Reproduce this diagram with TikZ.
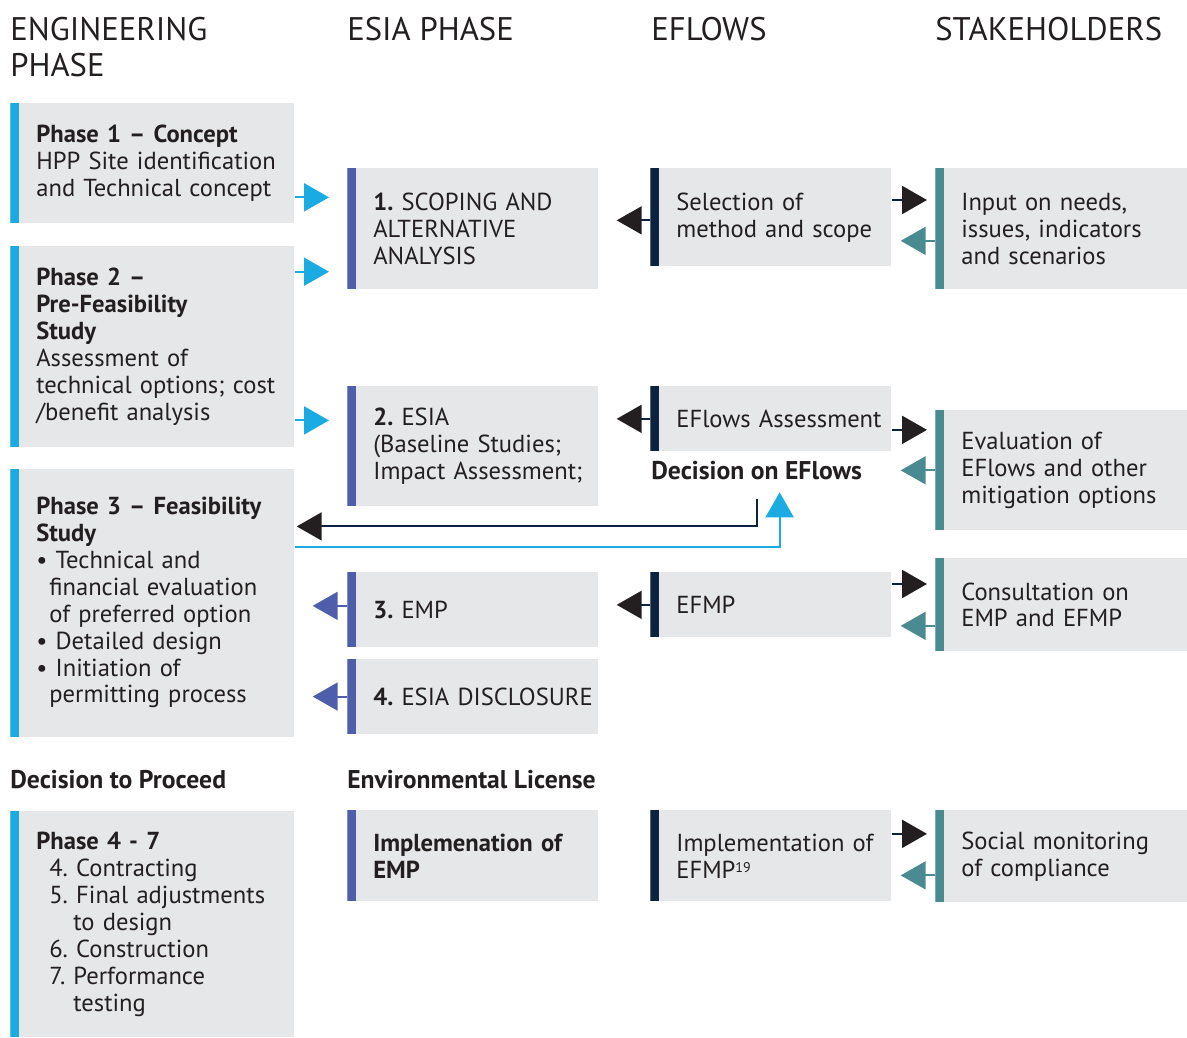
\documentclass[tikz,border=0pt]{standalone}
\usepackage{fontspec}
\setmainfont{PT Sans}
\usetikzlibrary{positioning, arrows.meta, calc}
\frenchspacing

\definecolor{boxgray}{HTML}{E6E7E8}
\definecolor{engblue}{HTML}{1AABE2}
\definecolor{esiablue}{HTML}{4F5EAA}
\definecolor{flownavy}{HTML}{0C2340}
\definecolor{stakteal}{HTML}{4A8A91}
\definecolor{inkblack}{HTML}{231F20}

\newcommand{\rientro}{\hspace*{0.26cm}}
\newcommand{\rientrob}{\hspace*{0.74cm}}

\begin{document}
\begin{tikzpicture}[
        x=0.02cm, y=-0.02cm,       % un'unita = un pixel, y verso il basso
        every node/.style={text=inkblack, font=\fontsize{14}{15.3}\selectfont},
        % riquadro grigio con barra a sinistra: larghezza, altezza, colore barra
        card/.style n args={3}{fill=boxgray, anchor=north west, inner sep=0pt,
            minimum width=#1*0.02cm, text width=#1*0.02cm,
            minimum height=#2*0.02cm, align=left,
            execute at begin node={\leftskip=0.52cm},
            path picture={\fill[#3] (path picture bounding box.north west)
                rectangle ([xshift=0.18cm]path picture bounding box.south west);}},
        head/.style={anchor=north west, inner sep=0pt, align=left,
            font=\fontsize{18.6}{20.4}\selectfont},   % titoli delle colonne
        tag/.style={anchor=north west, inner sep=0pt,
            font=\fontsize{14.6}{15.3}\selectfont\bfseries}, % decisioni
        % frecce con punta triangolare grande
        link/.style={line width=0.04cm, shorten >=#1},
        cyanlink/.style={link=#1, engblue, -{Triangle[length=0.5cm, width=0.56cm]}},
        blacklink/.style={link=#1, flownavy, -{Triangle[length=0.5cm, width=0.56cm, color=inkblack]}},
        teallink/.style={link=#1, stakteal, -{Triangle[length=0.5cm, width=0.56cm]}},
        purplelink/.style={link=#1, esiablue, -{Triangle[length=0.5cm, width=0.56cm]}}
    ]
    \useasboundingbox (0,0) rectangle (1187,1038);

    % intestazioni
    \node[head] (hEng) at (10,17) {ENGINEERING\\PHASE};
    \node[head] (hEsia) at (347,17) {ESIA PHASE};
    \node[head] (hFlow) at (651,17) {EFLOWS};
    \node[head] (hStake) at (935,17) {STAKEHOLDERS};

    % colonna ingegneria
    \node[card={284}{120}{engblue}] (ph1) at (10,103)
        {\textbf{Phase 1 – Concept}\\HPP Site identification\\and Technical concept};
    \node[card={284}{201}{engblue}, below=0.44cm of ph1] (ph2)
        {\textbf{Phase 2 –}\\\textbf{Pre-Feasibility}\\\textbf{Study}\\Assessment of\\technical options; cost\\/benefit analysis};
    \node[card={284}{268}{engblue}, below=0.42cm of ph2] (ph3)
        {\textbf{Phase 3 – Feasibility}\\\textbf{Study}\\\textbullet\ Technical and\\\rientro financial evaluation\\\rientro of preferred option\\\textbullet\ Detailed design\\\textbullet\ Initiation of\\\rientro permitting process\\[0.22cm]};
    \node[card={284}{226}{engblue}] (ph4) at (10,811)
        {\textbf{Phase 4 - 7}\\\rientro 4. Contracting\\\rientro 5. Final adjustments\\\rientrob to design\\\rientro 6. Construction\\\rientro 7. Performance\\\rientrob testing};

    % colonna ESIA
    \node[card={251}{121}{esiablue}] (sc) at (347,168)
        {\textbf{1.} SCOPING AND\\ALTERNATIVE\\ANALYSIS};
    \node[card={251}{120}{esiablue}] (esia) at (347,386)
        {\textbf{2.} ESIA\\(Baseline Studies;\\Impact Assessment;};
    \node[card={251}{75}{esiablue}] (emp) at (347,572) {\textbf{3.} EMP};
    \node[card={251}{75}{esiablue}, below=0.22cm of emp] (disc) {\textbf{4.} ESIA DISCLOSURE};
    \node[card={251}{91}{esiablue}] (impemp) at (347,810)
        {\textbf{Implemenation of}\\\textbf{EMP}};

    % colonna EFlows
    \node[card={241}{98}{flownavy}] (sel) at (650,168) {Selection of\\method and scope};
    \node[card={241}{65}{flownavy}] (ass) at (650,386) {EFlows Assessment};
    \node[card={241}{65}{flownavy}] (efmp) at (650,572) {EFMP};
    \node[card={241}{91}{flownavy}] (impef) at (650,810)
        {Implementation of\\EFMP{\fontsize{8}{8}\selectfont\raisebox{0.12cm}{19}}};

    % colonna stakeholders
    \node[card={252}{121}{stakteal}] (inp) at (935,168)
        {Input on needs,\\issues, indicators\\and scenarios};
    \node[card={252}{120}{stakteal}] (eval) at (935,410)
        {Evaluation of\\EFlows and other\\mitigation options};
    \node[card={252}{93}{stakteal}] (cons) at (935,558) {Consultation on\\EMP and EFMP};
    \node[card={252}{92}{stakteal}] (soc) at (935,810) {Social monitoring\\of compliance};

    % decisioni
    \node[tag] (dec) at (651,461) {Decision on EFlows};
    \node[tag] (dtp) at (10,770) {Decision to Proceed};
    \node[tag] (lic) at (347,770) {Environmental License};
    \coordinate (decout) at ($(dec.south)+(0,19)$);
    \coordinate (decin) at ($(dec.south)+(23,12)$);

    % frecce ingegneria -> ESIA
    \draw[cyanlink=0.36cm] ($(ph1.east)+(0,34)$) coordinate (c1) -- (c1 -| sc.west);
    \draw[cyanlink=0.36cm] ($(ph2.north east)+(0,26)$) coordinate (c2) -- (c2 -| sc.west);
    \draw[cyanlink=0.36cm] ($(ph2.south east)+(0,-27)$) coordinate (c3) -- (c3 -| esia.west);

    % frecce EFlows
    \draw[blacklink=0.36cm] ($(sel.west)+(0,3)$) coordinate (b1) -- (b1 -| sc.east);
    \draw[blacklink=0.16cm] ($(sel.north east)+(0,32)$) coordinate (b2) -- (b2 -| inp.west);
    \draw[teallink=0.18cm] ($(inp.west)+(0,12)$) coordinate (t1) -- (t1 -| sel.east);
    \draw[blacklink=0.36cm] (ass.west) -- (ass.west -| esia.east);
    \draw[blacklink=0.16cm] ($(ass.east)+(0,11)$) coordinate (b3) -- (b3 -| eval.west);
    \draw[teallink=0.18cm] (eval.west) -- (eval.west -| ass.east);
    \draw[blacklink=0.36cm] (efmp.west) -- (efmp.west -| emp.east);
    \draw[blacklink=0.16cm] ($(efmp.north east)+(0,12)$) coordinate (b4) -- (b4 -| cons.west);
    \draw[teallink=0.18cm] ($(cons.west)+(0,21)$) coordinate (t2) -- (t2 -| efmp.east);
    \draw[blacklink=0.16cm] ($(impef.east)+(0,-22)$) coordinate (b5) -- (b5 -| soc.west);
    \draw[teallink=0.18cm] ($(soc.west)+(0,19)$) coordinate (t3) -- (t3 -| impef.east);

    % frecce ESIA -> ingegneria
    \draw[purplelink=0.36cm] ($(emp.west)+(0,-4)$) coordinate (p1) -- (p1 -| ph3.east);
    \draw[purplelink=0.36cm] (disc.west) -- (disc.west -| ph3.east);

    % anello della decisione
    \draw[blacklink=0.04cm] (decout) |- ($(ph3.north east)+(0,58)$);
    \draw[cyanlink=0cm] ($(ph3.north east)+(0,79)$) -| (decin);
\end{tikzpicture}
\end{document}
